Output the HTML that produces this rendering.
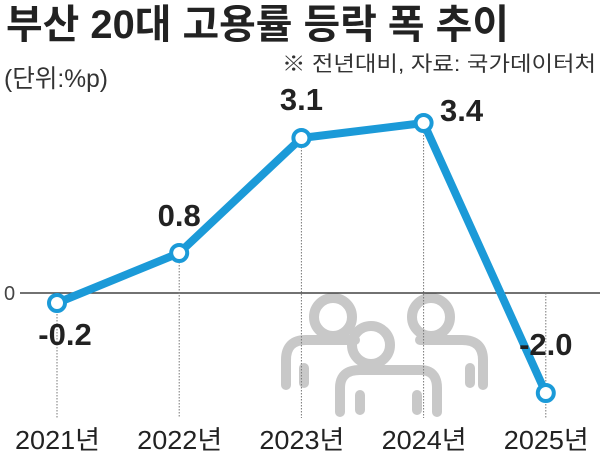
<!DOCTYPE html>
<html><head><meta charset="utf-8"><style>
body{margin:0;background:#fff;}
svg{display:block;font-family:"Liberation Sans","Noto Sans CJK KR",sans-serif;}
</style></head><body>
<svg id="c" width="600" height="458" viewBox="0 0 600 458">
<text x="6" y="38" font-size="40" font-weight="bold" fill="#222" textLength="503" lengthAdjust="spacingAndGlyphs">부산 20대 고용률 등락 폭 추이</text>
<text x="4" y="87" font-size="25" fill="#333" textLength="104" lengthAdjust="spacingAndGlyphs">(단위:%p)</text>
<text x="282" y="71" font-size="21" fill="#333" textLength="314" lengthAdjust="spacingAndGlyphs">※ 전년대비, 자료: 국가데이터처</text>
<g id="people" fill="none" stroke="#c8c8c8" stroke-width="10" stroke-linecap="round">
<circle cx="333" cy="317" r="19"/><path d="M286 385 V360 Q286 340 306 340 H355"/><line x1="304" y1="368" x2="304" y2="383"/>
<circle cx="431" cy="317" r="19"/><path d="M420 340 H462 Q483 340 483 360 V385"/><line x1="470" y1="368" x2="470" y2="383"/>
<circle cx="371" cy="345" r="19"/><path d="M340 412 V388 Q340 370 360 370 H420 Q437 370 437 388 V412"/><line x1="360" y1="395" x2="360" y2="410"/><line x1="417" y1="395" x2="417" y2="410"/>
</g>
<g id="plot"></g>
</svg>
<script>
const categories=["2021년","2022년","2023년","2024년","2025년"];
const values=[-0.2,0.8,3.1,3.4,-2.0];
const valueLabels=["-0.2","0.8","3.1","3.4","-2.0"];
const xs=i=>57+i*122.2;
const ys=v=>293-v*50;
const NS="http://www.w3.org/2000/svg";
const g=document.getElementById('plot');
function mk(t,a){const e=document.createElementNS(NS,t);for(const k in a)e.setAttribute(k,a[k]);g.appendChild(e);return e;}
let z=mk('line',{x1:20,x2:600,y1:ys(0),y2:ys(0),stroke:'#444','stroke-width':1.5});


let zt=mk('text',{x:4,y:ys(0)+7,'font-size':20,fill:'#444'});zt.textContent='0';


categories.forEach((c,i)=>{
 const l=mk('line',{x1:xs(i),x2:xs(i),y1:Math.min(ys(values[i]),ys(0)),y2:418,stroke:'#777','stroke-width':1,'stroke-dasharray':'1.5,1.5'});
 
 
 const t=mk('text',{x:xs(i)-42,y:449,'font-size':26,fill:'#222',textLength:85,lengthAdjust:'spacingAndGlyphs'});t.textContent=c;
 
 
});
const p=mk('polyline',{points:values.map((v,i)=>xs(i)+','+ys(v)).join(' '),fill:'none',stroke:'#1b9ad8','stroke-width':8,'stroke-linejoin':'round'});


const off=[[8,42],[0,-27],[0,-28],[38,-2],[0,-38]];
values.forEach((v,i)=>{
 const c=mk('circle',{cx:xs(i),cy:ys(v),r:8,fill:'#fff',stroke:'#1b9ad8','stroke-width':4});
 
 
 const t=mk('text',{x:xs(i)+off[i][0],y:ys(v)+off[i][1],'font-size':31,'font-weight':'bold',fill:'#222','text-anchor':'middle'});t.textContent=valueLabels[i];
 
 
});
</script>
</body></html>
